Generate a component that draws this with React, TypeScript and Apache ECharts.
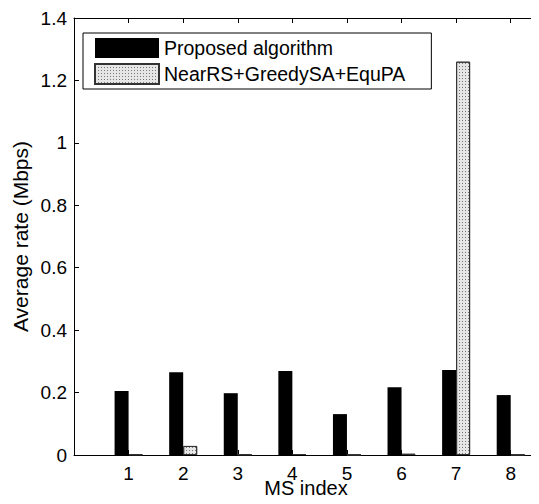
import React, { useEffect, useRef } from "react";
import * as echarts from "echarts";

const msIndex = [1, 2, 3, 4, 5, 6, 7, 8];
const proposed = [0.205, 0.265, 0.198, 0.269, 0.131, 0.217, 0.272, 0.192];
const nearRS = [0.002, 0.029, 0.002, 0.003, 0.001, 0.004, 1.26, 0.001];
const yTicks = [0, 0.2, 0.4, 0.6, 0.8, 1, 1.2, 1.4];

const FONT = "Liberation Sans, Arial, Helvetica, sans-serif";

export default function App() {
  const ref = useRef<HTMLDivElement>(null);
  useEffect(() => {
    if (!ref.current) return;
    const chart = echarts.init(ref.current, undefined, { renderer: "svg" });
    const tickCommon = {
      show: true,
      inside: true,
      length: 5,
      lineStyle: { color: "#000", width: 1 },
    };
    chart.setOption({
      animation: false,
      backgroundColor: "#fff",
      grid: {
        left: 74,
        top: 18,
        right: 1,
        bottom: 49,
        containLabel: false,
        outerBoundsMode: "none",
      },
      legend: {
        left: 83,
        top: 33,
        orient: "vertical",
        icon: "rect",
        backgroundColor: "#fff",
        borderColor: "#000",
        borderWidth: 1,
        padding: [5, 26, 4, 11],
        itemWidth: 64,
        itemHeight: 20,
        itemGap: 5,
        textStyle: { fontFamily: FONT, fontSize: 19.5, color: "#000" },
        data: ["Proposed algorithm", "NearRS+GreedySA+EquPA"],
      },
      xAxis: [
        {
          type: "value",
          min: 0,
          max: 8.5,
          interval: 1,
          name: "MS index",
          nameLocation: "middle",
          nameGap: 23,
          nameMoveOverlap: false,
          nameTextStyle: { fontFamily: FONT, fontSize: 20, color: "#000", verticalAlign: "top" },
          axisLine: { show: true, onZero: false, lineStyle: { color: "#000", width: 1 } },
          axisTick: tickCommon,
          axisLabel: {
            fontFamily: FONT,
            fontSize: 19,
            color: "#000",
            margin: 9,
            formatter: (v: number) => (msIndex.includes(v) ? String(v) : ""),
          },
          splitLine: { show: false },
        },
        {
          type: "value",
          position: "top",
          min: 0,
          max: 8.5,
          interval: 1,
          axisLine: { show: true, onZero: false, lineStyle: { color: "#000", width: 1 } },
          axisTick: tickCommon,
          axisLabel: { show: false },
          splitLine: { show: false },
        },
      ],
      yAxis: [
        {
          type: "value",
          min: yTicks[0],
          max: yTicks[yTicks.length - 1],
          interval: 0.2,
          name: "Average rate (Mbps)",
          nameLocation: "middle",
          nameGap: 43,
          nameRotate: 90,
          nameMoveOverlap: false,
          nameTextStyle: { fontFamily: FONT, fontSize: 21, color: "#000" },
          axisLine: { show: true, onZero: false, lineStyle: { color: "#000", width: 1 } },
          axisTick: tickCommon,
          axisLabel: {
            fontFamily: FONT,
            fontSize: 19,
            color: "#000",
            margin: 7,
            formatter: (v: number) => String(Math.round(v * 10) / 10),
          },
          splitLine: { show: false },
        },
        {
          type: "value",
          position: "right",
          min: yTicks[0],
          max: yTicks[yTicks.length - 1],
          interval: 0.2,
          axisLine: { show: true, onZero: false, lineStyle: { color: "#000", width: 1 } },
          axisTick: tickCommon,
          axisLabel: { show: false },
          splitLine: { show: false },
        },
      ],
      series: [
        {
          name: "Proposed algorithm",
          type: "bar",
          barWidth: 14,
          barGap: "0%",
          data: msIndex.map((x, i) => [x, proposed[i]]),
          itemStyle: { color: "#000", borderColor: "#000", borderWidth: 0 },
        },
        {
          name: "NearRS+GreedySA+EquPA",
          type: "bar",
          barWidth: 14,
          barGap: "0%",
          data: msIndex.map((x, i) => [x, nearRS[i]]),
          itemStyle: {
            color: "#e6e6e6",
            borderColor: "#333",
            borderWidth: 1,
            decal: {
              symbol: "rect",
              symbolSize: 1,
              color: "#777",
              dashArrayX: [1, 2],
              dashArrayY: [1, 2],
              rotation: 0,
            },
          },
        },
      ],
    });
    return () => chart.dispose();
  }, []);
  return <div ref={ref} style={{ width: 539, height: 504, margin: -8 }} />;
}
